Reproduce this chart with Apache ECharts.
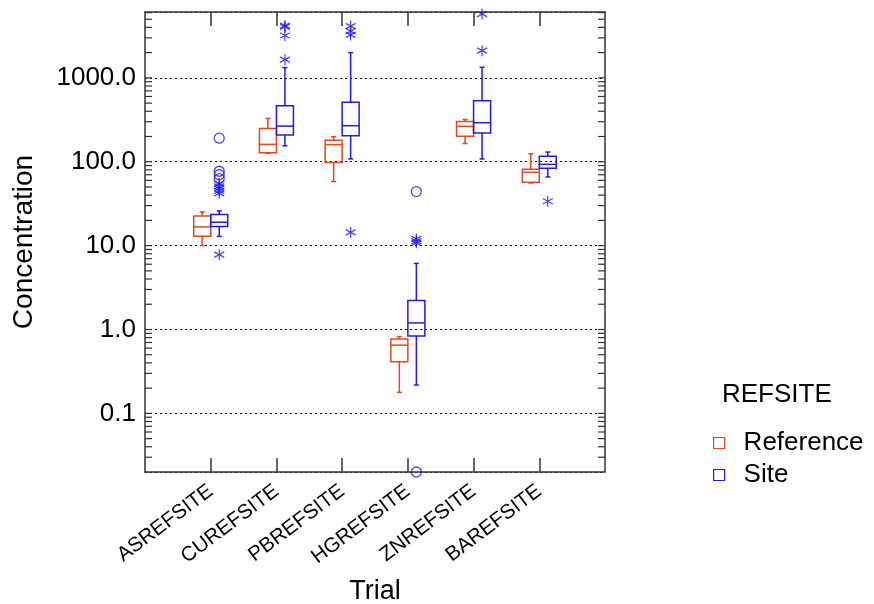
<!DOCTYPE html>
<html>
<head>
<meta charset="utf-8">
<script src="https://cdn.jsdelivr.net/npm/echarts@6/dist/echarts.min.js"></script>
<style>
  html, body { margin: 0; padding: 0; background: #fff; }
  #main { width: 874px; height: 604px; }
</style>
</head>
<body>
<div id="main"></div>
<script>
const categories = ['ASREFSITE', 'CUREFSITE', 'PBREFSITE', 'HGREFSITE', 'ZNREFSITE', 'BAREFSITE'];

// [min, q1, median, q3, max]
const referenceBoxes = [
  [10.0, 12.9, 16.7, 22.6, 25.2],
  [126, 128, 161, 249, 328],
  [58, 98, 160, 180, 199],
  [0.178, 0.412, 0.651, 0.773, 0.823],
  [165, 202, 264, 302, 319],
  [55.8, 56.9, 74.8, 81.2, 124.8]
];
const siteBoxes = [
  [12.9, 16.9, 19.0, 23.5, 25.9],
  [155, 208, 266, 465, 1326],
  [108, 204, 269, 513, 1999],
  [0.218, 0.839, 1.198, 2.21, 6.14],
  [108, 220, 292, 533, 1337],
  [65.8, 83.4, 93.1, 115.9, 130.4]
];

// outliers of the Site group
const siteCircles = [
  ['ASREFSITE', 191], ['ASREFSITE', 77], ['ASREFSITE', 70], ['ASREFSITE', 63],
  ['HGREFSITE', 44.1], ['HGREFSITE', 0.02]
];
const siteStars = [
  ['ASREFSITE', 55], ['ASREFSITE', 51], ['ASREFSITE', 48], ['ASREFSITE', 45], ['ASREFSITE', 42], ['ASREFSITE', 7.8],
  ['CUREFSITE', 4200], ['CUREFSITE', 4050], ['CUREFSITE', 3200], ['CUREFSITE', 1650],
  ['PBREFSITE', 4150], ['PBREFSITE', 3600], ['PBREFSITE', 3250], ['PBREFSITE', 14.4],
  ['HGREFSITE', 12.0], ['HGREFSITE', 11.3], ['HGREFSITE', 10.8],
  ['ZNREFSITE', 5770], ['ZNREFSITE', 2110],
  ['BAREFSITE', 33.8]
];

const yMin = 0.02;
const yMax = 6100;
const decadeLabels = [0.1, 1, 10, 100, 1000];

const RED = '#e8461e';
const BLUE = '#1c1cf0';
const AXIS = '#333';
const FONT = 'Liberation Sans';

// minor tick values 1..9 x each decade
const tickValues = [];
[0.01, 0.1, 1, 10, 100, 1000].forEach(d => {
  for (let k = 1; k <= 9; k++) {
    const v = +(k * d).toPrecision(6);
    if (v > yMin && v < yMax) tickValues.push(v);
  }
});

const axisCats = [' ', ...categories, '  '];
const inner = i => i > 0 && i < axisCats.length - 1;

const STAR = 'path://M10,0L10,20M1.34,5L18.66,15M1.34,15L18.66,5';

function boxRenderer(offset, color) {
  return function (params, api) {
    const x = api.value(0);
    const p = [1, 2, 3, 4, 5].map(k => api.coord([x, api.value(k)]));
    const cx = p[0][0] + offset;
    const half = 8.5, cap = 2.5;
    const st = { stroke: color, lineWidth: 1.5, fill: null };
    return {
      type: 'group',
      children: [
        { type: 'rect', shape: { x: cx - half, y: p[3][1], width: half * 2, height: p[1][1] - p[3][1] }, style: st },
        { type: 'line', shape: { x1: cx - half, y1: p[2][1], x2: cx + half, y2: p[2][1] }, style: st },
        { type: 'line', shape: { x1: cx, y1: p[3][1], x2: cx, y2: p[4][1] }, style: st },
        { type: 'line', shape: { x1: cx, y1: p[1][1], x2: cx, y2: p[0][1] }, style: st },
        { type: 'line', shape: { x1: cx - cap, y1: p[4][1], x2: cx + cap, y2: p[4][1] }, style: st },
        { type: 'line', shape: { x1: cx - cap, y1: p[0][1], x2: cx + cap, y2: p[0][1] }, style: st }
      ]
    };
  };
}

// inward minor ticks on both vertical sides, placed with the log axis
function tickRenderer(params, api) {
  const y = api.coord([0, api.value(1)])[1];
  const cs = params.coordSys;
  const st = { stroke: AXIS, lineWidth: 1.2 };
  return {
    type: 'group',
    children: [
      { type: 'line', shape: { x1: cs.x, y1: y, x2: cs.x + 7, y2: y }, style: st },
      { type: 'line', shape: { x1: cs.x + cs.width - 7, y1: y, x2: cs.x + cs.width, y2: y }, style: st }
    ]
  };
}

const chart = echarts.init(document.getElementById('main'));

const option = {
  animation: false,
  backgroundColor: '#fff',
  textStyle: { fontFamily: FONT },
  title: {
    text: 'REFSITE',
    left: 717,
    top: 377,
    textStyle: { fontSize: 26, fontWeight: 'normal', color: '#000', fontFamily: FONT }
  },
  legend: {
    orient: 'vertical',
    left: 708,
    top: 425,
    itemWidth: 11,
    itemHeight: 11,
    itemGap: 6,
    textStyle: { fontSize: 26, color: '#000', fontFamily: FONT, padding: [0, 0, 0, 14] },
    data: [
      { name: 'Reference', icon: 'rect', itemStyle: { color: '#fff', borderColor: RED, borderWidth: 1.2 } },
      { name: 'Site', icon: 'rect', itemStyle: { color: '#fff', borderColor: BLUE, borderWidth: 1.2 } }
    ]
  },
  grid: { left: 145, right: 269, top: 12, bottom: 132, outerBoundsMode: 'none', containLabel: false },
  xAxis: [
    {
      type: 'category',
      data: axisCats,
      boundaryGap: false,
      position: 'bottom',
      name: 'Trial',
      nameLocation: 'middle',
      nameGap: 106,
      nameTextStyle: { fontSize: 27, color: '#000', fontFamily: FONT },
      axisLine: { lineStyle: { color: AXIS, width: 1.5 } },
      axisTick: { inside: true, length: 14, interval: inner, lineStyle: { color: AXIS, width: 1.5 } },
      axisLabel: { interval: 0, rotate: 37, fontSize: 20.5, color: '#000', margin: 17, fontFamily: FONT },
      splitLine: { show: false }
    },
    {
      type: 'category',
      data: axisCats,
      boundaryGap: false,
      position: 'top',
      axisLine: { lineStyle: { color: AXIS, width: 1.5 } },
      axisTick: { inside: true, length: 14, interval: inner, lineStyle: { color: AXIS, width: 1.5 } },
      axisLabel: { show: false },
      splitLine: { show: false }
    }
  ],
  yAxis: [
    {
      type: 'log',
      logBase: 10,
      min: yMin,
      max: yMax,
      position: 'left',
      name: 'Concentration',
      nameLocation: 'middle',
      nameGap: 107,
      nameTextStyle: { fontSize: 28, color: '#000', fontFamily: FONT },
      axisLine: { show: true, lineStyle: { color: AXIS, width: 1.5 } },
      axisTick: { show: false },
      axisLabel: {
        fontSize: 26,
        color: '#000',
        margin: 9,
        fontFamily: FONT,
        showMinLabel: false,
        showMaxLabel: false,
        formatter: v => {
          const hit = decadeLabels.find(d => Math.abs(v - d) / d < 1e-6);
          return hit === undefined ? '' : hit.toFixed(1);
        }
      },
      splitLine: { show: true, lineStyle: { color: '#000', type: [2, 3], width: 1 } }
    },
    {
      type: 'log',
      logBase: 10,
      min: yMin,
      max: yMax,
      position: 'right',
      axisLine: { show: true, lineStyle: { color: AXIS, width: 1.5 } },
      axisTick: { show: false },
      axisLabel: { show: false },
      splitLine: { show: false }
    }
  ],
  series: [
    {
      name: 'ticks',
      type: 'custom',
      silent: true,
      xAxisIndex: 0,
      yAxisIndex: 0,
      encode: { x: 0, y: 1 },
      renderItem: tickRenderer,
      data: tickValues.map(v => [0, v])
    },
    {
      name: 'Reference',
      type: 'custom',
      xAxisIndex: 0,
      yAxisIndex: 0,
      encode: { x: 0, y: [1, 2, 3, 4, 5] },
      renderItem: boxRenderer(-8.5, RED),
      data: referenceBoxes.map((b, i) => [categories[i], ...b])
    },
    {
      name: 'Site',
      type: 'custom',
      xAxisIndex: 0,
      yAxisIndex: 0,
      encode: { x: 0, y: [1, 2, 3, 4, 5] },
      renderItem: boxRenderer(8.5, BLUE),
      data: siteBoxes.map((b, i) => [categories[i], ...b])
    },
    {
      name: 'Site',
      type: 'scatter',
      clip: false,
      symbol: 'circle',
      symbolSize: 10,
      symbolOffset: [8.5, 0],
      itemStyle: { color: 'rgba(0,0,0,0)', borderColor: BLUE, borderWidth: 1.3 },
      data: siteCircles
    },
    {
      name: 'Site',
      type: 'scatter',
      clip: false,
      symbol: STAR,
      symbolSize: [10, 11],
      symbolOffset: [8.5, 0],
      itemStyle: { color: 'rgba(0,0,0,0)', borderColor: BLUE, borderWidth: 1.3 },
      data: siteStars
    }
  ]
};

chart.setOption(option);
</script>
</body>
</html>
